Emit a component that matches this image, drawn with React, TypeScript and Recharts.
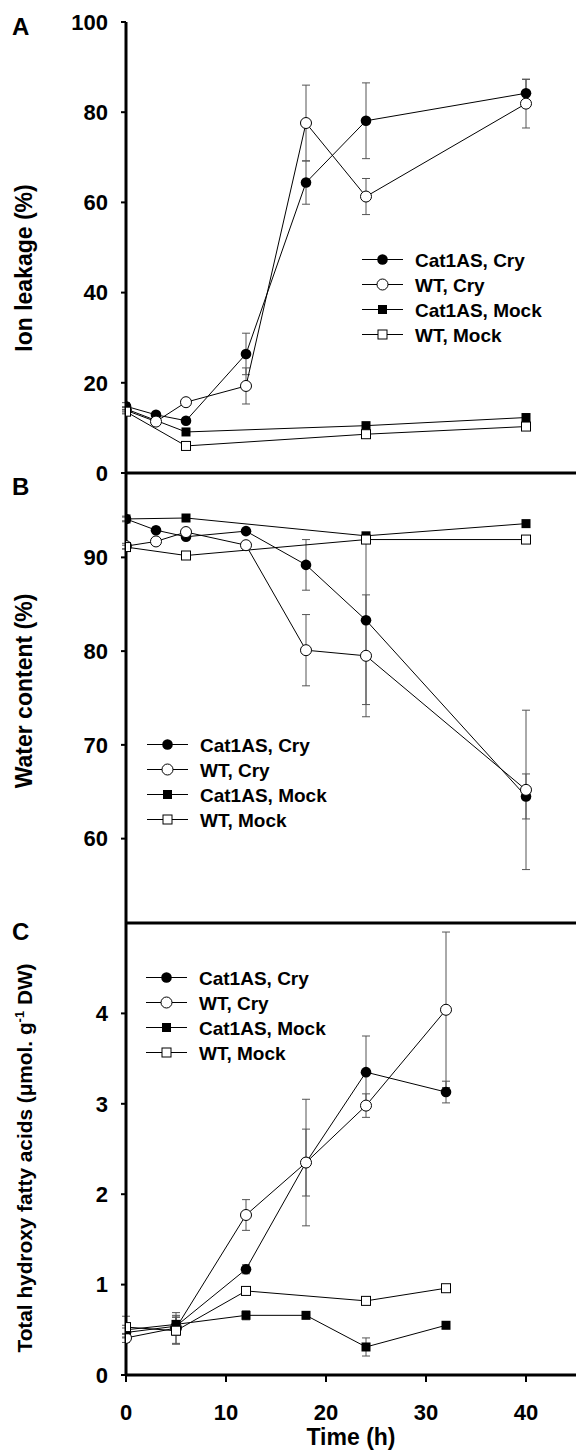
import React from "react";
import { LineChart, Line, XAxis, YAxis, ErrorBar, Legend } from "recharts";

const FONT = '"Liberation Sans", Arial, Helvetica, sans-serif';
const W = 577;

// sampling times (h)
const tCry = [0, 3, 6, 12, 18, 24, 40];
const tMock = [0, 6, 24, 40];
const tHfa = [0, 5, 12, 18, 24, 32];
const tHfaWtMock = [0, 5, 12, 24, 32];

// A: ion leakage (%)
const ionCat1Cry = [14.8, 12.9, 11.6, 26.4, 64.4, 78.1, 84.2];
const ionCat1CrySe = [0.8, 0.5, 0.6, 4.6, 4.8, 8.4, 3.1];
const ionWtCry = [13.9, 11.4, 15.7, 19.3, 77.6, 61.3, 81.9];
const ionWtCrySe = [0.6, 0.5, 0.6, 4.0, 8.4, 4.0, 5.4];
const ionCat1Mock = [14.2, 9.1, 10.5, 12.3];
const ionWtMock = [13.6, 6.0, 8.6, 10.3];
const ionMockSe = [0.5, 0.5, 0.5, 0.5];

// B: water content (%)
const wcCat1Cry = [94.1, 92.9, 92.2, 92.8, 89.2, 83.3, 64.5];
const wcCat1CrySe = [0.3, 0.3, 0.3, 0.3, 2.7, 9.0, 2.4];
const wcWtCry = [91.2, 91.7, 92.7, 91.3, 80.1, 79.5, 65.2];
const wcWtCrySe = [0.3, 0.3, 0.3, 0.3, 3.8, 6.5, 8.5];
const wcCat1Mock = [94.1, 94.2, 92.3, 93.6];
const wcWtMock = [91.1, 90.2, 91.9, 91.9];
const wcMockSe = [0.2, 0.2, 0.2, 0.2];

// C: total hydroxy fatty acids (umol/g DW)
const hfaCat1Cry = [0.47, 0.54, 1.17, 2.35, 3.35, 3.13];
const hfaCat1CrySe = [0.05, 0.1, 0.05, 0.37, 0.4, 0.12];
const hfaWtCry = [0.41, 0.52, 1.77, 2.35, 2.98, 4.04];
const hfaWtCrySe = [0.05, 0.17, 0.17, 0.7, 0.13, 0.86];
const hfaCat1Mock = [0.5, 0.56, 0.66, 0.66, 0.31, 0.55];
const hfaCat1MockSe = [0.05, 0.1, 0.05, 0.03, 0.1, 0.03];
const hfaWtMock = [0.53, 0.49, 0.93, 0.82, 0.96];
const hfaWtMockSe = [0.12, 0.15, 0.03, 0.03, 0.03];

const timeTicks = [0, 10, 20, 30, 40];
const ionTicks = [0, 20, 40, 60, 80, 100];
const wcTicks = [60, 70, 80, 90];
const hfaTicks = [0, 1, 2, 3, 4];

const NAMES = ["Cat1AS, Cry", "WT, Cry", "Cat1AS, Mock", "WT, Mock"];
type Kind = "disc" | "ring" | "block" | "box";
const KIND: Record<string, Kind> = {
  "Cat1AS, Cry": "disc",
  "WT, Cry": "ring",
  "Cat1AS, Mock": "block",
  "WT, Mock": "box",
};

const rows = (t: number[], v: number[], e: number[]) =>
  t.map((x, i) => ({ t: x, v: v[i], e: e[i] }));

type Series = { name: string; data: { t: number; v: number; e: number }[] };

function Mark({ cx, cy, kind }: { cx: number; cy: number; kind: Kind }) {
  if (cx == null || cy == null) return null;
  if (kind === "disc") return <circle cx={cx} cy={cy} r={5.3} fill="#000" />;
  if (kind === "ring")
    return <circle cx={cx} cy={cy} r={5.5} fill="#fff" stroke="#000" strokeWidth={1} />;
  if (kind === "block") return <rect x={cx - 4.5} y={cy - 4.5} width={9} height={9} fill="#000" />;
  return (
    <rect x={cx - 4.5} y={cy - 4.5} width={9} height={9} fill="#fff" stroke="#000" strokeWidth={1} />
  );
}

function LegendBox({ payload }: any) {
  const names: string[] = (payload ?? [])
    .map((p: any) => p.value as string)
    .sort((a: string, b: string) => NAMES.indexOf(a) - NAMES.indexOf(b));
  return (
    <svg width={230} height={names.length * 25} style={{ display: "block", overflow: "visible" }}>
      {names.map((name, i) => {
        const y = 12.5 + i * 25;
        return (
          <g key={name}>
            <line x1={0} x2={41} y1={y} y2={y} stroke="#000" strokeWidth={1} />
            <Mark cx={20.5} cy={y} kind={KIND[name]} />
            <text x={53} y={y + 7} fontSize={19} fontWeight="bold" fontFamily={FONT} fill="#000">
              {name}
            </text>
          </g>
        );
      })}
    </svg>
  );
}

function SideTitle({ letter, letterY, midY, size = 23, children }: any) {
  return (
    <g>
      <text x={12} y={letterY} fontSize={24} fontWeight="bold" fontFamily={FONT} fill="#000">
        {letter}
      </text>
      <text
        x={32}
        y={midY}
        transform={`rotate(-90 32 ${midY})`}
        textAnchor="middle"
        fontSize={size}
        fontWeight="bold"
        fontFamily={FONT}
        fill="#000"
      >
        {children}
      </text>
    </g>
  );
}

const tickStyle = { fill: "#000", fontSize: 22, fontWeight: 700, fontFamily: FONT };
const axisLine = { stroke: "#000", strokeWidth: 3 };
const tickLine = { stroke: "#000", strokeWidth: 2 };

function Panel({
  top,
  height,
  marginTop,
  xHeight,
  domain,
  ticks,
  series,
  legendLeft,
  legendTop,
  title,
  showTime,
}: {
  top: number;
  height: number;
  marginTop: number;
  xHeight: number;
  domain: [number, number];
  ticks: number[];
  series: Series[];
  legendLeft: number;
  legendTop: number;
  title: React.ReactNode;
  showTime?: boolean;
}) {
  return (
    <div style={{ position: "absolute", left: 0, top, width: W, height }}>
      <LineChart width={W} height={height} margin={{ top: marginTop, right: 1, bottom: 0, left: 0 }}>
        <XAxis
          dataKey="t"
          type="number"
          domain={[0, 45]}
          ticks={timeTicks}
          interval={0}
          allowDataOverflow
          height={xHeight}
          axisLine={axisLine}
          tickLine={tickLine}
          tickSize={7}
          tickMargin={22}
          tick={showTime ? tickStyle : false}
          label={
            showTime
              ? () => (
                  <text
                    x={351}
                    y={height - 6}
                    textAnchor="middle"
                    fontSize={23}
                    fontWeight="bold"
                    fontFamily={FONT}
                    fill="#000"
                  >
                    Time (h)
                  </text>
                )
              : undefined
          }
        />
        <XAxis
          xAxisId="top"
          orientation="top"
          type="number"
          domain={[0, 45]}
          height={0}
          tick={false}
          tickLine={false}
          axisLine={axisLine}
        />
        <YAxis
          type="number"
          domain={domain}
          ticks={ticks}
          interval={0}
          allowDataOverflow
          width={126}
          axisLine={axisLine}
          tickLine={tickLine}
          tickSize={5}
          tickMargin={13}
          tick={tickStyle}
          label={() => title}
        />
        <YAxis
          yAxisId="right"
          orientation="right"
          type="number"
          domain={domain}
          width={0}
          tick={false}
          tickLine={false}
          axisLine={{ stroke: "#000", strokeWidth: 2 }}
        />
        {series.map((s) => (
          <Line
            key={s.name}
            name={s.name}
            data={s.data}
            dataKey="v"
            stroke="#000"
            strokeWidth={1}
            isAnimationActive={false}
            dot={(p: any) => <Mark key={`${s.name}-${p.index}`} cx={p.cx} cy={p.cy} kind={KIND[s.name]} />}
            activeDot={false}
          >
            <ErrorBar dataKey="e" direction="y" width={4} stroke="#555" strokeWidth={1} />
          </Line>
        ))}
        <Legend
          layout="vertical"
          align="center"
          verticalAlign="middle"
          wrapperStyle={{ position: "absolute", left: legendLeft, top: legendTop, width: 230 }}
          content={(p: any) => <LegendBox payload={p.payload} />}
        />
      </LineChart>
    </div>
  );
}

const seriesA: Series[] = [
  { name: "Cat1AS, Cry", data: rows(tCry, ionCat1Cry, ionCat1CrySe) },
  { name: "WT, Cry", data: rows(tCry, ionWtCry, ionWtCrySe) },
  { name: "Cat1AS, Mock", data: rows(tMock, ionCat1Mock, ionMockSe) },
  { name: "WT, Mock", data: rows(tMock, ionWtMock, ionMockSe) },
];

const seriesB: Series[] = [
  { name: "Cat1AS, Cry", data: rows(tCry, wcCat1Cry, wcCat1CrySe) },
  { name: "WT, Cry", data: rows(tCry, wcWtCry, wcWtCrySe) },
  { name: "Cat1AS, Mock", data: rows(tMock, wcCat1Mock, wcMockSe) },
  { name: "WT, Mock", data: rows(tMock, wcWtMock, wcMockSe) },
];

const seriesC: Series[] = [
  { name: "Cat1AS, Cry", data: rows(tHfa, hfaCat1Cry, hfaCat1CrySe) },
  { name: "WT, Cry", data: rows(tHfa, hfaWtCry, hfaWtCrySe) },
  { name: "Cat1AS, Mock", data: rows(tHfa, hfaCat1Mock, hfaCat1MockSe) },
  { name: "WT, Mock", data: rows(tHfaWtMock, hfaWtMock, hfaWtMockSe) },
];

export default function App() {
  return (
    <div style={{ position: "absolute", left: 0, top: 0, width: W, height: 1451, background: "#fff" }}>
      <Panel
        top={0}
        height={495}
        marginTop={22}
        xHeight={22}
        domain={[0, 100]}
        ticks={ionTicks}
        series={seriesA}
        legendLeft={362}
        legendTop={247}
        title={
          <SideTitle letter="A" letterY={35} midY={268}>
            Ion leakage (%)
          </SideTitle>
        }
      />
      <Panel
        top={463}
        height={470}
        marginTop={10}
        xHeight={10}
        domain={[51, 99]}
        ticks={wcTicks}
        series={seriesB}
        legendLeft={147}
        legendTop={269}
        title={
          <SideTitle letter="B" letterY={32} midY={228}>
            Water content (%)
          </SideTitle>
        }
      />
      <Panel
        top={913}
        height={538}
        marginTop={10}
        xHeight={76}
        domain={[0, 5]}
        ticks={hfaTicks}
        series={seriesC}
        legendLeft={146}
        legendTop={52}
        showTime
        title={
          <SideTitle letter="C" letterY={27} midY={245} size={20.8}>
            Total hydroxy fatty acids (μmol. g
            <tspan dy={-8} fontSize={13}>
              -1
            </tspan>
            <tspan dy={8}> DW)</tspan>
          </SideTitle>
        }
      />
    </div>
  );
}
